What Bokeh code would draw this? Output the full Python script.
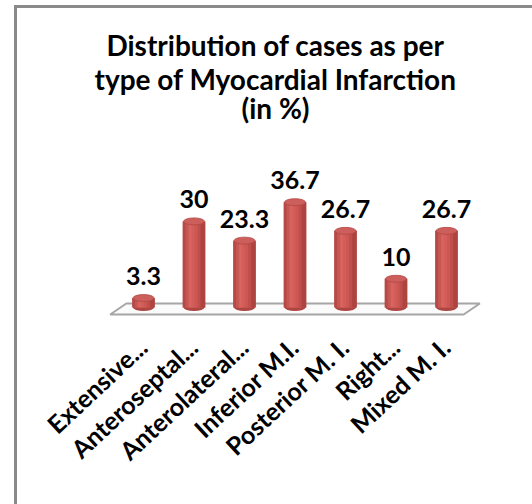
import numpy as np
from bokeh.plotting import figure
from bokeh.models import Range1d
from bokeh.core.properties import value
from bokeh.embed import file_html
from bokeh.resources import INLINE

# ---- data ----
categories = ["Extensive...", "Anteroseptal...", "Anterolateral...", "Inferior M.I.",
              "Posterior M. I.", "Right...", "Mixed M. I."]
percentages = [3.3, 30, 23.3, 36.7, 26.7, 10, 26.7]
value_labels = ["3.3", "30", "23.3", "36.7", "26.7", "10", "26.7"]
title_lines = ["Distribution of cases as per", "type of Myocardial Infarction", "(in %)"]

# ---- layout (pixels) ----
W, H = 532, 504
X0_PX = 143.0   # canvas x of first category centre
DX_PX = 50.5    # pixels per category
Y0_PX = 307.0   # canvas y (from top) of value 0
DY_PX = 2.87    # pixels per percentage point


def px_to_x(px):
    return (px - X0_PX) / DX_PX


def px_to_y(py):
    return (Y0_PX - py) / DY_PX


p = figure(width=W, height=H, output_backend="svg", toolbar_location=None,
           x_range=Range1d(px_to_x(0), px_to_x(W)),
           y_range=Range1d(px_to_y(H), px_to_y(0)),
           x_axis_type=None, y_axis_type=None, min_border=0,
           outline_line_color=None, background_fill_color="white",
           border_fill_color="white")

FONT = value("Lato")

# chart border (left and top)
p.line(x=[px_to_x(15), px_to_x(15), px_to_x(W + 10)],
       y=[px_to_y(H + 10), px_to_y(6), px_to_y(6)],
       line_width=3, line_color="#8a8a8a", line_join="miter")

# 3D floor
n = len(categories)
xs = np.arange(n, dtype=float)
d = 0.16
fy_front, fy_back = px_to_y(314), px_to_y(303)
p.patch(x=[-0.5 - d, n - 0.5 - d, n - 0.5 + d, -0.5 + d],
        y=[fy_front, fy_front, fy_back, fy_back],
        fill_color="#fbfbfb", line_color="#a6a6a6", line_width=2)

# cylinders
bar_w = 21 / DX_PX


def lerp_hex(c1, c2, t):
    a = [int(c1[i:i + 2], 16) for i in (1, 3, 5)]
    b = [int(c2[i:i + 2], 16) for i in (1, 3, 5)]
    return "#%02x%02x%02x" % tuple(round(a[k] + (b[k] - a[k]) * t) for k in range(3))


stops = [(0.0, "#ad4441"), (0.35, "#d8635f"), (0.7, "#ca5551"), (1.0, "#a53f3c")]
ns = 7
strip_cols = []
for j in range(ns):
    t = (j + 0.5) / ns
    for k in range(len(stops) - 1):
        if stops[k][0] <= t <= stops[k + 1][0]:
            tt = (t - stops[k][0]) / (stops[k + 1][0] - stops[k][0])
            strip_cols.append(lerp_hex(stops[k][1], stops[k + 1][1], tt))
            break

p.ellipse(x=xs, y=[0] * n, width=bar_w, height=7, height_units="screen",
          fill_color="#ad4643", line_color=None)

# base body then overlapping strips (no seams)
p.vbar(x=xs, top=percentages, bottom=0, width=bar_w, fill_color="#c4524f", line_color=None)
sx, stop_, scol = [], [], []
for i, v in enumerate(percentages):
    for j in range(ns):
        sx.append(xs[i] - bar_w / 2 + (j + 0.5) * bar_w / ns)
        stop_.append(v)
        scol.append(strip_cols[j])
p.vbar(x=sx, top=stop_, bottom=0, width=bar_w / ns * 1.6,
       fill_color=scol, line_color=None)
# clean edges
p.vbar(x=xs - bar_w / 2 + bar_w / ns * 0.25, top=percentages, bottom=0,
       width=bar_w / ns * 0.5, fill_color=strip_cols[0], line_color=None)
p.vbar(x=xs + bar_w / 2 - bar_w / ns * 0.25, top=percentages, bottom=0,
       width=bar_w / ns * 0.5, fill_color=strip_cols[-1], line_color=None)

p.ellipse(x=xs, y=percentages, width=bar_w, height=7, height_units="screen",
          fill_color="#cc5e5b", line_color="#b34744", line_width=0.8)

# data labels
p.text(x=xs, y=percentages, text=value_labels, text_align="center",
       text_baseline="alphabetic", y_offset=-22, text_font=FONT,
       text_font_style="bold", text_font_size="25px", text_color="black")

# category labels
p.text(x=xs - 1 / DX_PX, y=[px_to_y(342)] * n, text=categories,
       angle=np.deg2rad(43), text_align="right", text_baseline="middle",
       text_font=FONT, text_font_style="bold", text_font_size="25px",
       text_color="black")

# title
p.text(x=[px_to_x(275)] * 3, y=[px_to_y(44), px_to_y(78), px_to_y(107)],
       text=title_lines, text_align="center", text_baseline="alphabetic",
       text_font=FONT, text_font_style="bold", text_font_size="28px",
       text_color="black")

open("out.html", "w").write(file_html(p, INLINE))
